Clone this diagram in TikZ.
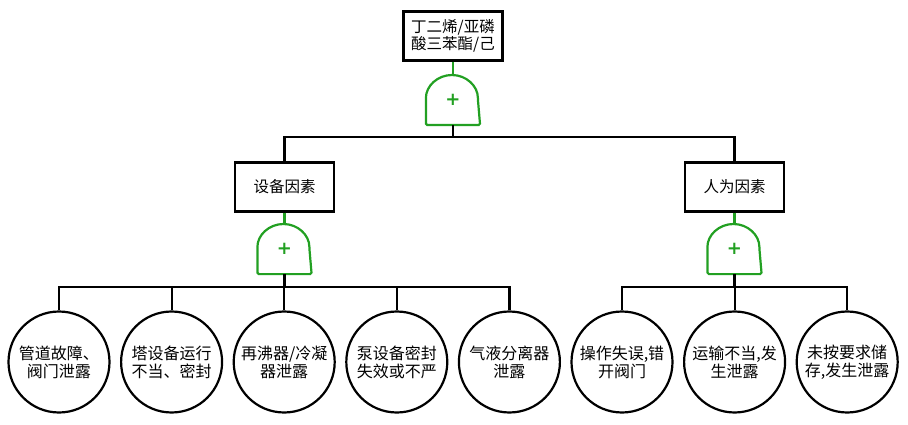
\documentclass[tikz,border=0pt]{standalone}
\usepackage{fontspec}
\setmainfont{Noto Sans CJK SC}
\newfontfamily\plusfont{DejaVu Sans}
\definecolor{orgreen}{RGB}{34,160,34}

\tikzset{
  event/.style={rectangle, draw, minimum width=99pt, minimum height=49pt, inner sep=0pt, align=center, font=\fontsize{15.5}{17}\selectfont},
  basic/.style={circle, draw, minimum size=101pt, inner sep=0pt, align=center, font=\fontsize{16}{18}\selectfont},
  orgate/.style={minimum width=52pt, minimum height=49pt, inner sep=0pt, text=orgreen, font=\plusfont\bfseries\fontsize{18}{18}\selectfont},
  gateline/.style={draw=orgreen, rounded corners=1.5pt}
}

\begin{document}
\begin{tikzpicture}[x=1pt,y=1pt,line width=2.2pt]
\useasboundingbox (0,0) rectangle (908,424);

% top event and gate
\node[event] (top) at (453,388) {丁二烯/亚磷\\酸三苯酯/己};
\node[orgate] (g0) at (453,324.5) {+};

% middle events and gates
\node[event] (equip) at (284.5,237) {设备因素};
\node[event] (human) at (734.5,237) {人为因素};
\node[orgate] (g1) at (284.5,175.5) {+};
\node[orgate] (g2) at (734.5,175.5) {+};

% basic events
\node[basic] (c1) at (59,62) {管道故障、\\阀门泄露};
\node[basic] (c2) at (171.6,62) {塔设备运行\\不当、密封};
\node[basic] (c3) at (284.2,62) {再沸器/冷凝\\器泄露};
\node[basic] (c4) at (396.8,62) {泵设备密封\\失效或不严};
\node[basic] (c5) at (509.4,62) {气液分离器\\泄露};
\node[basic] (c6) at (622,62) {操作失误,错\\开阀门};
\node[basic] (c7) at (734.6,62) {运输不当,发\\生泄露};
\node[basic] (c8) at (847.2,62) {未按要求储\\存,发生泄露};

% gate outlines
\foreach \g in {g0,g1,g2}
  \draw[gateline] (\g.west) arc[start angle=180, end angle=0, x radius=26pt, y radius=24.5pt]
    -- (\g.south east) -- (\g.south west) -- cycle;

% junctions
\coordinate (j0) at (453,287);
\coordinate (j1) at (284.5,137);
\coordinate (j2) at (734.5,137);

\draw[orgreen] (top) -- (g0);
\draw[orgreen] (equip) -- (g1);
\draw[orgreen] (human) -- (g2);

\draw (g0.south) -- (j0);
\draw (equip.north) |- (j0) -| (human.north);
\draw (g1.south) -- (j1);
\draw (g2.south) -- (j2);
\foreach \i in {1,...,5}
  \draw (c\i.north) |- (j1);
\foreach \i in {6,7,8}
  \draw (c\i.north) |- (j2);

\end{tikzpicture}
\end{document}
